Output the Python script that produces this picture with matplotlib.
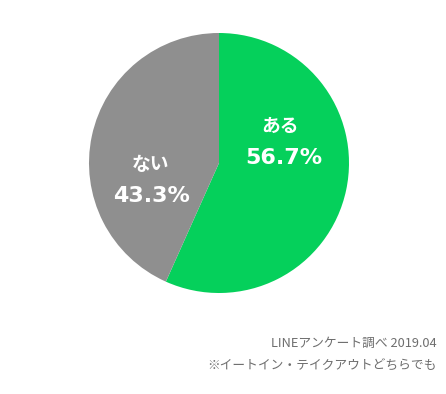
import matplotlib
matplotlib.use("Agg")
import matplotlib.pyplot as plt

categories = ["ある", "ない"]
values = [56.7, 43.3]
colors = ["#05D05B", "#8F8F8F"]
footer = ["LINEアンケート調べ 2019.04", "※イートイン・テイクアウトどちらでも"]

plt.rcParams['font.family'] = ['Noto Sans CJK JP', 'DejaVu Sans']

W, H = 446, 394
fig = plt.figure(figsize=(W/100, H/100), dpi=100)
cx, cy, r = 219, 163, 130
ax = fig.add_axes([(cx-r)/W, (H-cy-r)/H, 2*r/W, 2*r/H])
wedges, _ = ax.pie(values, colors=colors, startangle=90, counterclock=False,
                   wedgeprops=dict(linewidth=0))
ax.set_xlim(-1, 1)
ax.set_ylim(-1, 1)
ax.axis('off')

label_pos = [(0.47, 0.28, 0.50, 0.04), (-0.53, -0.01, -0.52, -0.25)]
for cat, val, (x1, y1, x2, y2) in zip(categories, values, label_pos):
    ax.text(x1, y1, cat, color='white', fontsize=13.5, fontweight='bold', ha='center', va='center')
    ax.text(x2, y2, f"{val:.1f}%", color='white', fontsize=16, fontweight='bold', ha='center', va='center',
            family=['DejaVu Sans'])

fig.text(437/W, 1-343/H, footer[0], ha='right', va='center', fontsize=9.2, color='#6E6E6E')
fig.text(437/W, 1-366/H, footer[1], ha='right', va='center', fontsize=9.2, color='#6E6E6E')

fig.savefig("out.png", dpi=100, facecolor='white')
